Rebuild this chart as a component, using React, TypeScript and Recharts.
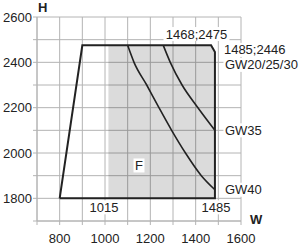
import {
  ComposedChart, Line, Area, XAxis, YAxis, CartesianGrid, ReferenceDot,
} from 'recharts';

const W_TICKS = [700, 800, 900, 1000, 1100, 1200, 1300, 1400, 1500, 1600];
const H_TICKS = [1700, 1800, 1900, 2000, 2100, 2200, 2300, 2400, 2500, 2600];

// working envelope, traced corner by corner
const envelope = [
  { w: 800, h: 1800 },
  { w: 900, h: 2475 },
  { w: 1468, h: 2475 },
  { w: 1485, h: 2446 },
  { w: 1485, h: 1800 },
  { w: 800, h: 1800 },
];

// zone F (shaded)
const zoneF = [
  { w: 1015, h: 2475 },
  { w: 1468, h: 2475 },
  { w: 1485, h: 2446 },
];

const gw35 = [
  { w: 1257, h: 2475 },
  { w: 1288, h: 2400 },
  { w: 1340, h: 2300 },
  { w: 1410, h: 2200 },
  { w: 1485, h: 2100 },
];

const gw40 = [
  { w: 1100, h: 2475 },
  { w: 1128, h: 2400 },
  { w: 1184, h: 2300 },
  { w: 1238, h: 2200 },
  { w: 1294, h: 2100 },
  { w: 1355, h: 2000 },
  { w: 1425, h: 1900 },
  { w: 1485, h: 1838 },
];

const INK = '#222';
const GRID = '#b4b4b4';
const FONT = '"Liberation Sans", Arial, sans-serif';

function XTick({ x, y, payload }: any) {
  if (payload.value % 200 !== 0) return <g />;
  return (
    <text x={x} y={y + 13} textAnchor="middle" dominantBaseline="central"
      fontFamily={FONT} fontSize={13} fill={INK}>
      {payload.value}
    </text>
  );
}

function YTick({ x, y, payload }: any) {
  if (payload.value % 200 !== 0) return <g />;
  return (
    <text x={x} y={y} textAnchor="end" dominantBaseline="central"
      fontFamily={FONT} fontSize={13} fill={INK}>
      {payload.value}
    </text>
  );
}

function Note({ viewBox, text, dx, dy, w, anchor = 'start' }: any) {
  const x = viewBox.x + dx;
  const y = viewBox.y + dy;
  const left = anchor === 'middle' ? x - w / 2 : x;
  return (
    <g>
      <rect x={left - 1.5} y={y - 7} width={w + 3} height={14} fill="#fff" />
      <text x={x} y={y} textAnchor={anchor} dominantBaseline="central"
        fontFamily={FONT} fontSize={13} fill={INK}>
        {text}
      </text>
    </g>
  );
}

function AxisLetter({ viewBox, text, side }: any) {
  const x = side === 'y' ? viewBox.x + viewBox.width + 1 : viewBox.x + viewBox.width + 9;
  const y = side === 'y' ? viewBox.y - 10 : viewBox.y - 2;
  return (
    <text x={x} y={y} dominantBaseline="central" fontFamily={FONT}
      fontSize={13} fontWeight="bold" fill={INK}>
      {text}
    </text>
  );
}

export default function App() {
  return (
    <div style={{ position: 'absolute', left: 0, top: 0, width: 300, height: 244, background: '#fff' }}>
      <ComposedChart width={300} height={244} margin={{ top: 17, right: 59, bottom: 0, left: 0 }}>
        <CartesianGrid stroke={GRID} strokeWidth={1} />
        <XAxis dataKey="w" type="number" domain={[700, 1600]} ticks={W_TICKS}
          height={23} tickSize={4} tickMargin={0} axisLine={{ stroke: GRID }}
          tickLine={{ stroke: GRID }} tick={<XTick />} interval={0}
          label={<AxisLetter text="W" side="x" />} />
        <XAxis xAxisId="top" orientation="top" type="number" domain={[700, 1600]}
          ticks={W_TICKS} height={0} tickSize={4} axisLine={false}
          tickLine={{ stroke: GRID }} tick={<g />} interval={0} />
        <YAxis dataKey="h" type="number" domain={[1700, 2600]} ticks={H_TICKS}
          width={37} tickSize={4} tickMargin={1} axisLine={{ stroke: GRID }}
          tickLine={{ stroke: GRID }} tick={<YTick />} interval={0}
          label={<AxisLetter text="H" side="y" />} />

        <Area data={zoneF} dataKey="h" type="linear" baseValue={1800}
          fill="#000" fillOpacity={0.14} stroke="none" isAnimationActive={false} />
        <Line data={gw40} dataKey="h" type="monotone" stroke={INK} strokeWidth={1.6}
          dot={false} isAnimationActive={false} />
        <Line data={gw35} dataKey="h" type="monotone" stroke={INK} strokeWidth={1.6}
          dot={false} isAnimationActive={false} />
        <Line data={envelope} dataKey="h" type="linear" stroke={INK} strokeWidth={2}
          dot={false} isAnimationActive={false} />

        <ReferenceDot x={1468} y={2475} r={0} stroke="none"
          label={<Note text="1468;2475" dx={-14.6} dy={-11.3} w={63} anchor="middle" />} />
        <ReferenceDot x={1485} y={2446} r={0} stroke="none"
          label={<Note text="1485;2446" dx={9} dy={-2} w={63} />} />
        <ReferenceDot x={1485} y={2446} r={0} stroke="none"
          label={<Note text="GW20/25/30" dx={10} dy={13} w={73} />} />
        <ReferenceDot x={1485} y={2100} r={0} stroke="none"
          label={<Note text="GW35" dx={10} dy={0} w={35} />} />
        <ReferenceDot x={1485} y={1838} r={0} stroke="none"
          label={<Note text="GW40" dx={10} dy={0} w={35} />} />
        <ReferenceDot x={1150} y={1945} r={0} stroke="none"
          label={<Note text="F" dx={0} dy={0} w={8} anchor="middle" />} />
        <ReferenceDot x={1015} y={1800} r={0} stroke="none"
          label={<Note text="1015" dx={-4.5} dy={9} w={29} anchor="middle" />} />
        <ReferenceDot x={1485} y={1800} r={0} stroke="none"
          label={<Note text="1485" dx={1} dy={9} w={29} anchor="middle" />} />
      </ComposedChart>
    </div>
  );
}
